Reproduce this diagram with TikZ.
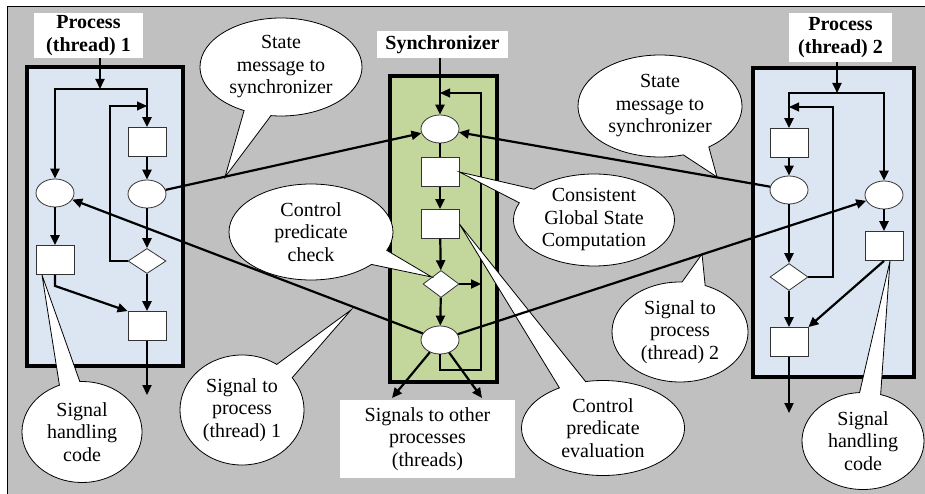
\documentclass[tikz,border=0pt]{standalone}
\usepackage{fontspec}
\setmainfont{Liberation Serif}
\usetikzlibrary{shapes.geometric,shapes.callouts,arrows.meta}
\definecolor{frameGray}{RGB}{192,192,192}
\definecolor{procBlue}{RGB}{220,230,242}
\definecolor{syncGreen}{RGB}{195,214,155}
\newcommand{\bigtxt}{\fontsize{20}{22.5}\selectfont}
\tikzset{
	plc/.style={ellipse,draw=black!80,fill=white,line width=0.8pt,minimum width=38pt,minimum height=28pt,inner sep=0pt},
	trn/.style={rectangle,draw=black!80,fill=white,line width=0.8pt,minimum width=38pt,minimum height=29pt,inner sep=0pt},
	chk/.style={diamond,draw=black!80,fill=white,line width=0.8pt,minimum width=38pt,minimum height=25pt,inner sep=0pt},
	ttl/.style={fill=white,align=center,inner sep=0pt,font=\bigtxt\bfseries},
	bubble/.style={ellipse callout,draw,fill=white,line width=0.8pt,align=center,inner sep=0pt,callout pointer arc=20},
	arr/.style={-{Triangle[length=10pt,width=9pt]},line width=2.2pt},
	lp/.style={-{Triangle[length=10pt,width=9pt]},line width=1.1pt},
}
\begin{document}
\begin{tikzpicture}[x=1pt,y=-1pt,font=\bigtxt]
	\useasboundingbox (0,0) rectangle (925,494);
	\fill[frameGray] (7,7) rectangle (925,494);
	\draw[line width=1pt] (7,494) -- (7,7) -- (925,7);
	
	% process 1
	\draw[fill=procBlue,line width=3.2pt] (27,67) rectangle (183,366);
	\node[ttl,minimum width=109pt,minimum height=45pt] (ttlA) at (88.5,35.5) {Process\\(thread) 1};
	\coordinate (brA) at (100,89);
	\coordinate (lpA) at (110,106);
	\coordinate (outA) at (147,395);
	\node[plc] (pA1) at (55,193) {};
	\node[trn] (tA1) at (55,260) {};
	\node[trn] (tA2) at (147,142) {};
	\node[plc] (pA2) at (147,194) {};
	\node[chk] (dA) at (147,261) {};
	\node[trn] (tA3) at (147,326) {};
	
	\draw[lp] (dA.west) -| (lpA) -- (lpA -| tA2.north);
	\draw[arr] (ttlA.south -| brA) -- (brA);
	\draw[arr] (brA) -| (pA1.north);
	\draw[arr] (brA) -| (tA2.north);
	\draw[arr] (tA2) -- (pA2);
	\draw[arr] (pA2) -- (dA);
	\draw[arr] (dA) -- (tA3);
	\draw[arr] (pA1) -- (tA1);
	\draw[arr] (tA1.south) -- ++(0,11) -- (tA3.north west);
	\draw[arr] (tA3) -- (outA);
	
	% synchronizer
	\draw[fill=syncGreen,line width=3.2pt] (390,76) rectangle (497,382);
	\node[ttl,minimum width=131pt,minimum height=27pt] (ttlS) at (442.5,44.5) {Synchronizer};
	\node[plc] (pS1) at (440,129) {};
	\node[trn] (tS1) at (440,172) {};
	\node[trn] (tS2) at (440,224) {};
	\node[chk,minimum width=36pt,minimum height=27pt] (dS) at (441,284) {};
	\node[plc] (pS2) at (440,340) {};
	\coordinate (lpS) at (481,93);
	\coordinate (lpSb) at (481,370);
	\coordinate (o1) at (392,398);
	\coordinate (o2) at (482,398);
	
	\draw[lp] (pS2.south) |- (lpSb) -- (lpS) -- (lpS -| pS1.north);
	\draw[arr] (ttlS.south -| pS1.north) -- (pS1.north);
	\draw[line width=2.2pt] (pS1) -- (tS1);
	\draw[arr] (tS1) -- (tS2);
	\draw[arr] (tS2) -- (dS);
	\draw[arr] (dS) -- (pS2);
	\draw[arr] (dS.east) -- (dS.east -| lpS);
	\draw[arr] (pS2) -- (o1);
	\draw[arr] (pS2) -- (o2);
	\node[ttl,font=\bigtxt,minimum width=175pt,minimum height=78pt] (ttlO) at (427.5,439) {Signals to other\\processes\\(threads)};
	
	% process 2
	\draw[fill=procBlue,line width=3.2pt] (753,68) rectangle (914,377);
	\node[ttl,minimum width=103pt,minimum height=49pt] (ttlB) at (840.5,37.5) {Process\\(thread) 2};
	\coordinate (brB) at (837,93);
	\coordinate (lpB) at (833,107);
	\coordinate (outB) at (789,413);
	\node[trn] (tB1) at (789,143) {};
	\node[plc] (pB1) at (789,190) {};
	\node[chk,minimum height=27pt] (dB) at (789,277) {};
	\node[trn] (tB3) at (789,342) {};
	\node[plc] (pB2) at (884,195) {};
	\node[trn] (tB2) at (884,246) {};
	
	\draw[lp] (dB.east) -| (lpB) -- (lpB -| tB1.north);
	\draw[arr] (ttlB.south -| brB) -- (brB);
	\draw[arr] (brB) -| (tB1.north);
	\draw[arr] (brB) -| (pB2.north);
	\draw[arr] (tB1) -- (pB1);
	\draw[arr] (pB1) -- (dB);
	\draw[arr] (dB) -- (tB3);
	\draw[arr] (pB2) -- (tB2);
	\draw[arr] (tB2.south) -- (tB3.north east);
	\draw[arr] (tB3) -- (outB);
	
	% callouts
	\node[bubble,minimum width=162pt,minimum height=98pt,callout absolute pointer={(225,177)}] (cSmA) at (281,67) {State\\message to\\synchronizer};
	\node[bubble,minimum width=164pt,minimum height=102pt,callout absolute pointer={(717,177)}] (cSmB) at (660,106) {State\\message to\\synchronizer};
	\node[bubble,minimum width=161pt,minimum height=92pt,callout absolute pointer={(tS1.east)}] (cCgs) at (594,220) {Consistent\\Global State\\Computation};
	\node[bubble,minimum width=164pt,minimum height=96pt,callout absolute pointer={(dS.north west)}] (cCpc) at (311,232) {Control\\predicate\\check};
	\node[bubble,minimum width=124pt,minimum height=110pt,callout absolute pointer={(351,310)}] (cSpA) at (242,410) {Signal to\\process\\(thread) 1};
	\node[bubble,minimum width=136pt,minimum height=100pt,callout absolute pointer={(702,254)}] (cSpB) at (680,332) {Signal to\\process\\(thread) 2};
	\node[bubble,minimum width=163pt,minimum height=95pt,callout absolute pointer={(tS2.east)}] (cCpe) at (603,428) {Control\\predicate\\evaluation};
	\node[bubble,minimum width=120pt,minimum height=101pt,callout absolute pointer={(42,275)}] (cShA) at (82,432) {Signal\\handling\\code};
	\node[bubble,minimum width=122pt,minimum height=97pt,callout absolute pointer={(890,261)}] (cShB) at (863,441) {Signal\\handling\\code};
	
	% messages and signals
	\draw[arr] (pA2) -- (pS1);
	\draw[arr] (pB1) -- (pS1);
	\draw[arr] (pS2) -- (pA1);
	\draw[arr] (pS2) -- (pB2);
\end{tikzpicture}
\end{document}
